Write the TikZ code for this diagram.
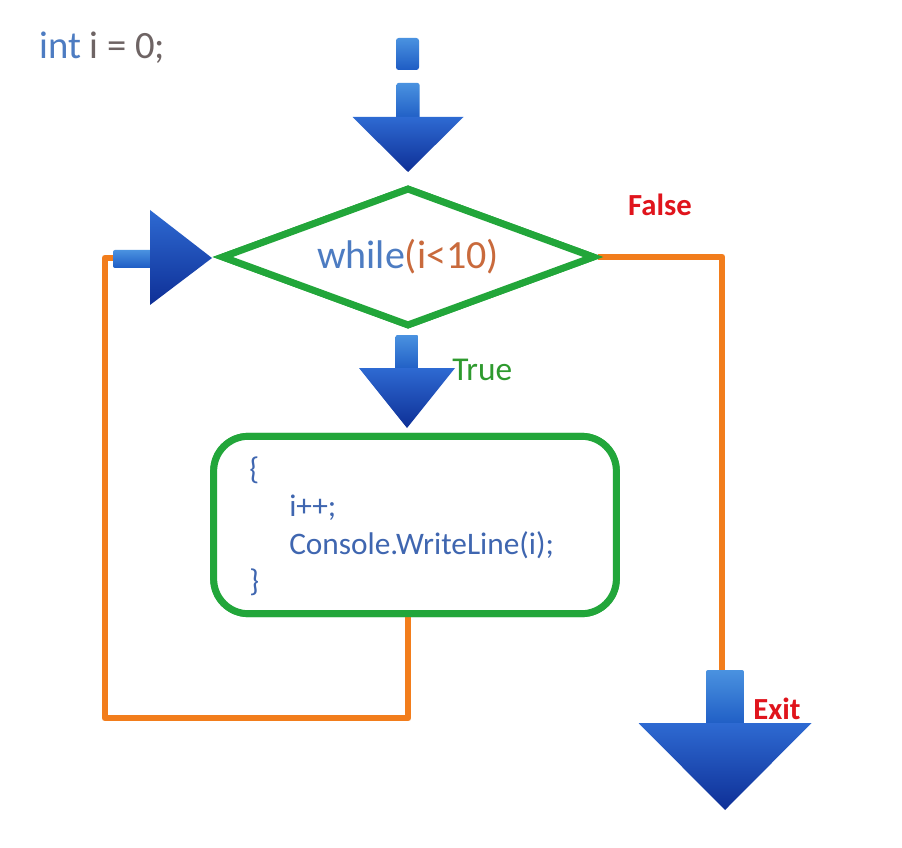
\documentclass[tikz,border=0pt]{standalone}
\usepackage{fontspec}
\setmainfont{Carlito}
\usetikzlibrary{shapes.geometric}
\definecolor{codeblue}{HTML}{3F66B0}
\definecolor{kwblue}{HTML}{4D7CC2}
\definecolor{condbrown}{HTML}{C96A3C}
\definecolor{graytext}{HTML}{6E6464}
\definecolor{flowgreen}{HTML}{22A63A}
\definecolor{truegreen}{HTML}{2E9A2E}
\definecolor{flowred}{HTML}{E0141C}
\definecolor{looporange}{HTML}{F27D1C}
\definecolor{shaftlight}{HTML}{4A92E0}
\definecolor{shaftdark}{HTML}{1E5CC4}
\definecolor{headtop}{HTML}{2E6AD2}
\definecolor{headbot}{HTML}{0E2F96}
\newcommand\blueDown[6]{%
  \shade[top color=shaftlight, bottom color=shaftdark, rounded corners=1.5pt] (#1-#3,#2) rectangle (#1+#3,#4+3);
  \shade[top color=headtop, bottom color=headbot] (#1-#5,#4) -- (#1+#5,#4) -- (#1,#6) -- cycle;
}
\begin{document}
\begin{tikzpicture}[x=0.75pt,y=-0.75pt,
  orangeline/.style={draw=looporange, line width=5.2pt, line join=round},
  condbox/.style={diamond, draw=flowgreen, line width=5.2pt, fill=white, aspect=2.68,
    minimum width=280pt, minimum height=104pt, inner sep=0pt, font=\fontsize{30}{34}\selectfont},
  bodybox/.style={rectangle, draw=flowgreen, line width=5.2pt, fill=white, rounded corners=26pt,
    minimum width=302pt, minimum height=133pt},
  codetext/.style={text=codeblue, anchor=west, font=\fontsize{23.5}{27}\selectfont, inner sep=0pt},
  redlabel/.style={text=flowred, font=\bfseries\fontsize{23}{27}\selectfont, inner sep=0pt}]
\useasboundingbox (0,0) rectangle (902,848);
\fill[white] (0,0) rectangle (902,848);

% initial statement
\node[anchor=west, inner sep=0pt, font=\fontsize{29}{33}\selectfont] (init) at (39,48)
  {\textcolor{kwblue}{int} \textcolor{graytext}{i = 0;}};

% start marker and first arrow
\shade[top color=shaftlight, bottom color=shaftdark, rounded corners=2pt] (396,38) rectangle (419,70);
\blueDown{408}{83}{11.5}{117}{55.5}{172}

% coordinates for connector ends
\coordinate (loopin) at (114,258);
\coordinate (loopcorner) at (105,718);
\coordinate (exitin) at (722,672);

% nodes (first pass, define anchors)
\node[condbox] (cond) at (408,257) {\textcolor{kwblue}{while}\textcolor{condbrown}{(i<10)}\hspace{12pt}};
\node[bodybox] (body) at (415,525) {};

% connectors
\draw[orangeline] (cond.east) -| (exitin);
\draw[orangeline] (cond.south |- body.south) |- (loopcorner) |- (loopin);

% redraw nodes on top of connectors
\node[condbox] at (408,257) {\textcolor{kwblue}{while}\textcolor{condbrown}{(i<10)}\hspace{12pt}};
\node[bodybox] at (415,525) {};

% left loop arrow
\shade[top color=shaftlight, bottom color=shaftdark, rounded corners=1.5pt] (113,250) rectangle (154,268);
\shade[top color=headtop, bottom color=headbot] (150,210) -- (212,258) -- (150,305) -- cycle;

% true arrow
\blueDown{407}{335}{11.5}{368}{48}{428}
\node[anchor=west, inner sep=0pt, text=truegreen, font=\fontsize{25}{29}\selectfont] (truelbl) at (452,370) {True};

% body text
\node[codetext] (lb) at (249,470) {\{};
\node[codetext] (inc) at (289,508) {i++;};
\node[codetext] (wl) at (289,545) {Console.WriteLine(i);};
\node[codetext] (rb) at (249,582) {\}};

% exit arrow
\blueDown{725}{670}{19}{723}{86.5}{810}

% labels
\node[redlabel] (falselbl) at (660,205) {False};
\node[redlabel] (exitlbl) at (777,709) {Exit};
\end{tikzpicture}
\end{document}
